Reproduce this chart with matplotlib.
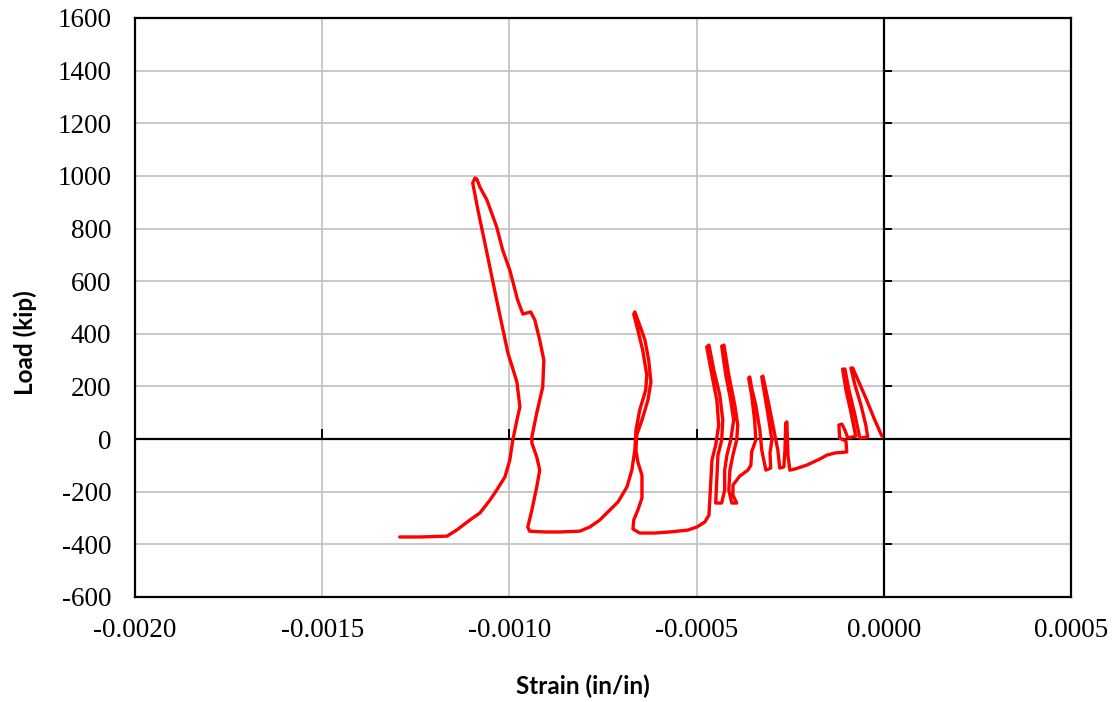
import matplotlib
matplotlib.use('Agg')
import matplotlib.pyplot as plt

# load-strain trace (strain in microstrain, load in kip)
strain_ue = [-5, -24, -48, -69, -83, -88, -77, -61, -48, -43,
             -64, -77, -93, -104, -110, -101, -88, -75, -96,
             -104, -112, -120, -118, -101, -99, -131, -152, -171, -206, -238, -251,
             -256, -259, -262, -264, -267, -278,
             -283, -291, -304, -315, -323, -326, -318, -307, -299, -304, -302, -315,
             -326, -331, -342, -353, -358, -361, -353, -345, -342, -353, -355, -363,
             -385, -403, -403, -393,
             -406, -414, -411, -403, -393, -390, -398, -414, -427, -433, -422, -409,
             -401, -409, -419, -425, -425, -433, -449,
             -446, -443, -433, -430, -438, -454, -467, -473, -459, -446, -441, -449,
             -459, -462, -465, -467, -478, -499, -524, -572, -612, -652, -670,
             -668, -657, -646, -646, -657, -662, -660, -646, -630, -622, -628, -638,
             -652, -665, -668, -657, -644, -633, -636, -652, -662, -665, -673, -686,
             -710, -737, -759, -785, -812, -865, -905, -946,
             -951, -940, -927, -919, -927, -940, -940, -927, -911, -908, -919, -932,
             -943, -964, -978, -999, -1018, -1034, -1060, -1079, -1087, -1092, -1098,
             -1084, -1060, -1034, -1004, -980, -972, -980, -991, -999, -1012, -1034,
             -1052, -1079, -1106, -1141, -1167, -1239, -1293]
load_kip = [11, 72, 156, 224, 270, 270, 205, 129, 53, 8,
            4, 91, 186, 266, 266, 186, 103, 11, 4,
            34, 57, 53, 4, -8, -49, -53, -61, -76, -99, -114, -118,
            -61, 65, 61, -42, -106, -110,
            -42, 15, 110, 186, 239, 236, 167, 72, -4, -53, -110, -118,
            -42, 34, 129, 194, 236, 232, 167, 72, -4, -49, -99, -118,
            -141, -175, -213, -243,
            -243, -194, -118, -61, -4, 53, 129, 243, 357, 353, 243, 148,
            72, -4, -61, -118, -194, -243, -243,
            -156, -61, -4, 72, 167, 262, 357, 350, 243, 148, 53, -23,
            -80, -156, -232, -289, -315, -334, -346, -353, -357, -357, -342,
            -308, -270, -224, -137, -87, -42, 15, 72, 148, 217, 300, 376,
            433, 483, 475, 414, 338, 243, 186, 110, 34, -42, -118, -182,
            -239, -277, -308, -334, -350, -353, -353, -350,
            -334, -270, -182, -118, -68, -15, 8, 99, 198, 300, 376, 452,
            483, 475, 528, 642, 718, 806, 908, 958, 988, 992, 973,
            870, 707, 528, 327, 217, 122, 72, -4, -80, -144, -194,
            -232, -281, -308, -346, -369, -372, -372]

x_ticks = [-0.0020, -0.0015, -0.0010, -0.0005, 0.0000, 0.0005]
y_ticks = [-600, -400, -200, 0, 200, 400, 600, 800, 1000, 1200, 1400, 1600]

strain = [s * 1e-6 for s in strain_ue]

fig = plt.figure(figsize=(11.14, 7.02), dpi=100)
ax = fig.add_axes([0.1212, 0.1496, 0.8402, 0.8248])

ax.plot(strain, load_kip, color='#ff0000', lw=2.4, zorder=4,
        solid_joinstyle='round', solid_capstyle='round')

ax.set_xlim(-0.0020, 0.0005)
ax.set_ylim(-600, 1600)
ax.set_xticks(x_ticks)
ax.set_yticks(y_ticks)
ax.set_xticklabels(['%.4f' % t for t in x_ticks])
ax.set_yticklabels([str(t) for t in y_ticks])
ax.grid(True, color='#c0c0c0', lw=1.2, zorder=0)

# axes crossing at zero, excel style
ax.axhline(0, color='black', lw=1.6, zorder=3)
ax.axvline(0, color='black', lw=1.6, zorder=3)
ax.plot(x_ticks, [0] * len(x_ticks), ls='none', marker=2, ms=7, mew=1.4, color='black', zorder=3)
ax.plot([0] * len(y_ticks), y_ticks, ls='none', marker=1, ms=6, mew=1.4, color='black', zorder=3)

for sp in ax.spines.values():
    sp.set_linewidth(1.6)
    sp.set_color('black')

ax.tick_params(axis='both', length=0)
ax.tick_params(axis='x', pad=15)
ax.tick_params(axis='y', pad=17)
for lbl in ax.get_xticklabels() + ax.get_yticklabels():
    lbl.set_fontfamily('Liberation Serif')
    lbl.set_fontsize(19.5)

font_axis = {'family': 'Lato', 'fontsize': 17.5, 'fontweight': 'bold'}
fig.text(0.5235, 0.023, 'Strain (in/in)', ha='center', va='center', **font_axis)
fig.text(0.0225, 0.512, 'Load (kip)', ha='center', va='center', rotation=90, **font_axis)

fig.savefig('out.png', dpi=100)
